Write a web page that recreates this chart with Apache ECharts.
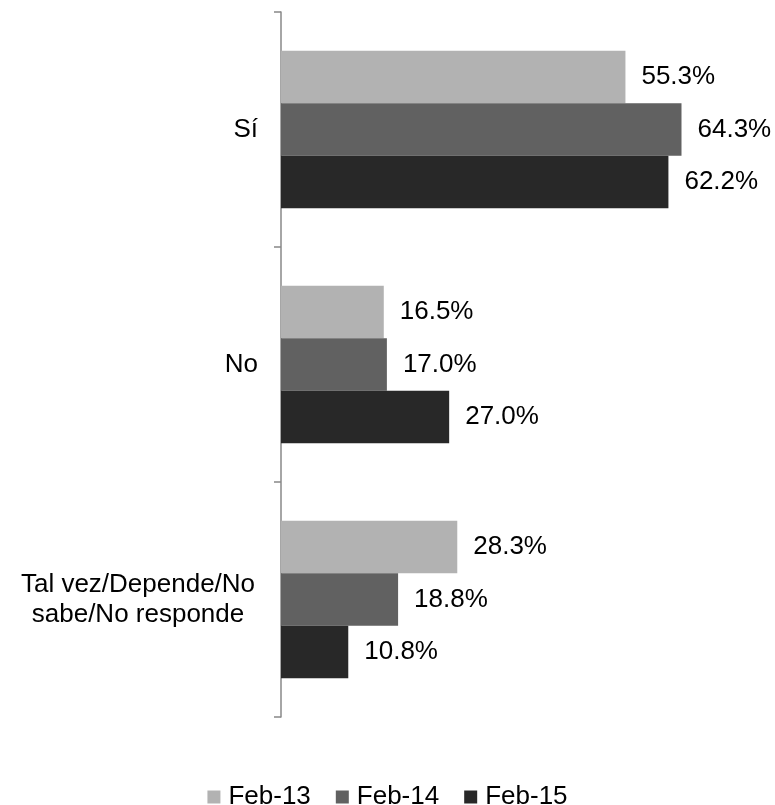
<!DOCTYPE html>
<html>
<head>
<meta charset="utf-8">
<script src="https://cdn.jsdelivr.net/npm/echarts@6/dist/echarts.min.js"></script>
<style>html,body{margin:0;padding:0;background:#fff}#c{width:775px;height:805px}</style>
</head>
<body>
<div id="c"></div>
<script>
const categories = ['Sí', 'No', 'Tal vez/Depende/No\nsabe/No responde'];
const seriesNames = ['Feb-13', 'Feb-14', 'Feb-15'];
const feb13 = [55.3, 16.5, 28.3];
const feb14 = [64.3, 17.0, 18.8];
const feb15 = [62.2, 27.0, 10.8];
const colors = ['#b2b2b2', '#616161', '#282828'];
const FONT = '"Liberation Sans", Arial, sans-serif';

const chart = echarts.init(document.getElementById('c'));
const mk = (name, data, color) => ({
  name, type: 'bar', data,
  itemStyle: { color },
  barGap: '0%', barCategoryGap: '33%',
  label: {
    show: true, position: 'right', distance: 16,
    formatter: p => p.value.toFixed(1) + '%',
    color: '#000', fontSize: 26, fontFamily: FONT, padding: [3, 0, 0, 0]
  }
});
chart.setOption({
  animation: false,
  textStyle: { fontFamily: FONT },
  grid: { left: 281, top: 12, bottom: 88, right: 58, containLabel: false },
  xAxis: {
    type: 'value', min: 0, max: 70, show: false
  },
  yAxis: {
    type: 'category', data: categories, inverse: true,
    axisLine: { lineStyle: { color: '#888', width: 1.5 } },
    axisTick: { show: true, length: 7, lineStyle: { color: '#888', width: 1.5 } },
    axisLabel: {
      margin: 23, color: '#000', fontSize: 26, fontFamily: FONT, lineHeight: 30,
      formatter: v => v.indexOf('\n') >= 0 ? v.split('\n').map(s => '{c|' + s + '}').join('\n') : v,
      rich: { c: { width: 240, align: 'center', fontSize: 26, lineHeight: 30, color: '#000', fontFamily: FONT } }
    },
    splitLine: { show: false }
  },
  legend: {
    data: seriesNames, bottom: -10, left: 'center',
    itemWidth: 13, itemHeight: 13, itemGap: 25,
    icon: 'rect',
    textStyle: { fontSize: 26, color: '#000', fontFamily: FONT, padding: [0, 0, 0, 3] }
  },
  series: [mk(seriesNames[0], feb13, colors[0]), mk(seriesNames[1], feb14, colors[1]), mk(seriesNames[2], feb15, colors[2])]
});
</script>
</body>
</html>
